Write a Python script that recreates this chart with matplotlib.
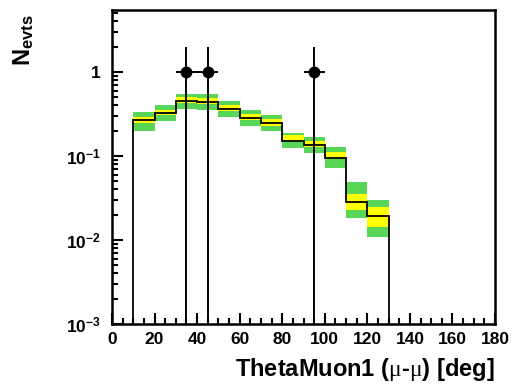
import numpy as np
import matplotlib
matplotlib.use('Agg')
import matplotlib.pyplot as plt
from matplotlib.ticker import FixedLocator, NullFormatter, MultipleLocator

plt.rcParams['font.family'] = ['Liberation Sans', 'DejaVu Sans']
plt.rcParams['mathtext.fontset'] = 'custom'
plt.rcParams['mathtext.rm'] = 'Liberation Serif'
plt.rcParams['mathtext.bf'] = 'Liberation Sans:bold'
plt.rcParams['mathtext.default'] = 'bf'

# histogram bins (deg) and expected events
edges = [10, 20, 30, 40, 50, 60, 70, 80, 90, 100, 110, 120, 130]
expected = [0.268, 0.325, 0.452, 0.440, 0.363, 0.283, 0.247,
            0.151, 0.135, 0.0946, 0.0283, 0.0193]
# outer (green) band
band2_lo = [0.199, 0.261, 0.363, 0.353, 0.291, 0.228, 0.199,
            0.125, 0.109, 0.072, 0.0183, 0.0109]
band2_hi = [0.334, 0.405, 0.547, 0.547, 0.452, 0.353, 0.308,
            0.188, 0.168, 0.128, 0.049, 0.030]
# inner (yellow) band
band1_lo = [0.247, 0.308, 0.428, 0.416, 0.343, 0.268, 0.228,
            0.147, 0.128, 0.092, 0.0228, 0.0143]
band1_hi = [0.291, 0.353, 0.504, 0.490, 0.405, 0.316, 0.276,
            0.178, 0.151, 0.112, 0.0353, 0.0247]

# observed events
data_x = [35, 45, 95]
data_y = [1, 1, 1]
data_err = [1, 1, 1]
data_xerr = [5, 5, 5]

fig = plt.figure(figsize=(5.13, 3.85), dpi=100)
ax = fig.add_axes([112/513, 1-324/385, (495-112)/513, (324-10)/385])
ax.set_yscale('log')

left = np.array(edges[:-1])
width = np.diff(edges)
lo2, hi2 = np.array(band2_lo), np.array(band2_hi)
lo1, hi1 = np.array(band1_lo), np.array(band1_hi)
ax.bar(left, hi2 - lo2, width=width, bottom=lo2, align='edge',
       color='#58d658', edgecolor='none', zorder=1)
ax.bar(left, hi1 - lo1, width=width, bottom=lo1, align='edge',
       color='#ffff00', edgecolor='none', zorder=2)
ax.stairs(expected, edges, baseline=1e-5, color='black', lw=1.3, zorder=3)

ax.errorbar(data_x, data_y, yerr=data_err, xerr=data_xerr, fmt='o',
            color='black', ms=7.5, elinewidth=1.4, capsize=0, zorder=4)

ax.set_xlim(0, 180)
ax.set_ylim(1e-3, 5.47)

ax.xaxis.set_major_locator(MultipleLocator(20))
ax.xaxis.set_minor_locator(MultipleLocator(5))
ax.yaxis.set_major_locator(FixedLocator([1e-3, 1e-2, 1e-1, 1]))
ax.set_yticklabels([r'$10^{-3}$', r'$10^{-2}$', r'$10^{-1}$', '1'])
ax.yaxis.set_minor_locator(FixedLocator(
    [m * 10.0**e for e in range(-3, 1) for m in range(2, 10)]))
ax.yaxis.set_minor_formatter(NullFormatter())

ax.tick_params(which='both', direction='in', top=False, right=False,
               labelsize=12.5, width=1.5, pad=6)
ax.tick_params(axis='y', pad=8)
ax.tick_params(which='major', length=8)
ax.tick_params(which='minor', length=4)
for lab in ax.get_xticklabels() + ax.get_yticklabels():
    lab.set_fontweight('bold')
for s in ax.spines.values():
    s.set_linewidth(1.8)

ax.set_xlabel(r'ThetaMuon1 ($\mathrm{\mu}$-$\mathrm{\mu}$) [deg]',
              fontsize=17, fontweight='bold', loc='right', labelpad=6)
fig.text(0.045, 0.962, r'$N_{evts}$', rotation=90, ha='center', va='top',
         fontsize=17)

fig.savefig('out.png', dpi=100, facecolor='white')
